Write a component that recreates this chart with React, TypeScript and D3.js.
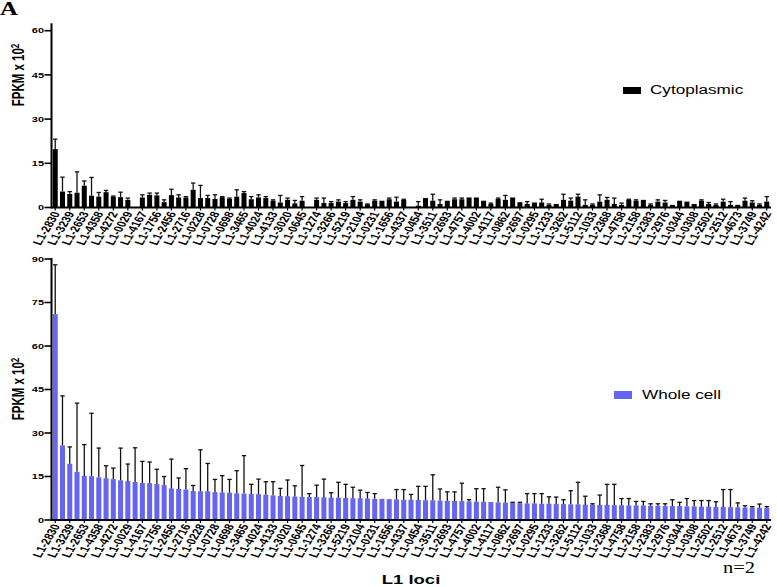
import React from "react";
import * as d3 from "d3";

const labels = ["L1-2830","L1-3239","L1-2653","L1-4358","L1-4272","L1-0029","L1-4167","L1-1756","L1-2456","L1-2716","L1-0228","L1-0728","L1-0698","L1-3465","L1-4024","L1-4133","L1-3020","L1-0645","L1-1274","L1-3266","L1-5219","L1-2104","L1-0231","L1-1656","L1-4337","L1-0454","L1-3511","L1-2693","L1-4757","L1-4002","L1-4117","L1-0862","L1-2697","L1-0295","L1-1233","L1-3262","L1-5112","L1-1033","L1-2368","L1-4758","L1-2158","L1-2383","L1-2976","L1-0344","L1-0308","L1-2502","L1-2512","L1-4673","L1-3749","L1-4242"];

const cytoValues = [
  19.8, 5.4, 4.6, 5.0, 7.4, 4.0, 3.7, 5.2, 3.7, 3.5,
  2.6, 0, 3.4, 4.3, 4.1, 1.8, 4.2, 3.4, 3.4, 6.0,
  3.2, 3.2, 2.9, 3.5, 2.9, 3.7, 4.9, 2.8, 3.4, 3.2,
  2.3, 1.7, 2.6, 1.4, 2.3, 0, 2.6, 1.5, 1.5, 2.0,
  1.5, 2.6, 2.0, 1.1, 2.3, 2.3, 2.8, 2.0, 2.6, 0,
  0.6, 3.2, 2.3, 1.2, 2.3, 2.8, 2.8, 3.4, 3.4, 2.3,
  1.2, 2.9, 2.6, 3.4, 1.8, 1.2, 1.7, 1.7, 0.9, 1.2,
  2.6, 2.3, 3.7, 0.9, 0.9, 2.0, 2.6, 1.2, 0.9, 2.6,
  2.3, 2.6, 0.9, 2.0, 1.7, 0.9, 2.3, 2.0, 1.2, 2.3,
  1.2, 0.9, 2.0, 0.9, 0.9, 2.3, 1.7, 0.9, 2.0
];
const cytoErrTop = [
  23.2, 10.3, 5.4, 12.1, 9.0, 10.2, 5.1, 5.8, 3.9, 5.2,
  3.2, 0, 4.3, 4.9, 4.9, 2.6, 6.2, 4.3, 3.7, 8.3,
  7.5, 4.1, 4.3, 3.7, 3.2, 6.0, 5.4, 3.7, 4.3, 3.7,
  2.6, 4.1, 3.2, 2.4, 3.7, 0, 3.2, 3.2, 2.0, 2.6,
  2.0, 3.7, 2.6, 1.2, 2.6, 2.3, 3.2, 3.5, 2.8, 0,
  2.0, 3.2, 4.5, 2.6, 2.3, 3.2, 3.2, 3.4, 3.4, 2.3,
  1.5, 3.2, 4.1, 3.4, 1.8, 2.0, 1.7, 2.8, 1.2, 1.2,
  4.5, 3.2, 4.5, 2.6, 1.2, 4.3, 3.4, 3.2, 1.5, 2.8,
  2.6, 2.6, 1.2, 2.6, 2.4, 0.9, 2.3, 2.0, 1.2, 2.6,
  1.7, 1.2, 2.8, 2.0, 0.9, 3.2, 2.3, 1.2, 3.7
];

const wholeValues = [
  71.0, 25.7, 19.4, 16.6, 15.2, 15.1, 14.7, 14.4, 14.1, 13.7,
  13.4, 13.1, 12.8, 12.7, 12.4, 12.0, 10.9, 10.7, 10.5, 10.0,
  9.9, 9.9, 9.6, 9.5, 9.4, 9.2, 9.1, 9.0, 8.9, 8.7,
  8.5, 8.3, 8.2, 8.1, 8.0, 7.9, 7.9, 7.8, 7.7, 7.7,
  7.6, 7.5, 7.5, 7.4, 7.3, 7.3, 7.2, 7.1, 7.0, 7.0,
  6.9, 6.8, 6.8, 6.7, 6.6, 6.6, 6.5, 6.4, 6.3, 6.3,
  6.2, 6.1, 6.0, 5.9, 5.8, 5.7, 5.7, 5.6, 5.6, 5.5,
  5.5, 5.4, 5.4, 5.3, 5.3, 5.2, 5.2, 5.1, 5.1, 5.0,
  5.0, 5.0, 4.9, 4.9, 4.8, 4.8, 4.8, 4.7, 4.7, 4.6,
  4.6, 4.5, 4.5, 4.4, 4.4, 4.3, 4.3, 4.2, 4.1
];
const wholeErrTop = [
  88, 42.8, 25.2, 40.3, 26.0, 36.8, 24.8, 18.7, 17.9, 24.8,
  19.3, 24.9, 20.2, 20.0, 17.5, 15.0, 21.0, 14.5, 17.7, 11.9,
  24.2, 19.5, 14.0, 15.3, 14.0, 17.0, 22.2, 12.3, 14.1, 13.2,
  13.2,
  10.9, 13.8, 11.8, 18.8, 9.1, 12.0, 14.1, 9.4, 13.0, 12.3,
  11.3, 10.3, 9.5, 9.1, 6.6, 6.6, 10.5, 10.5, 8.8, 11.6,
  11.6, 15.6, 10.7, 9.7, 9.7, 12.7, 7.0, 10.8, 10.8, 6.1,
  11.3, 10.4, 6.1, 6.1, 9.1,
  9.1, 9.1, 8.0, 7.9, 7.0, 10.1, 13.0, 8.2, 5.6, 8.6,
  12.3, 12.3, 7.4, 7.4, 6.4, 6.4, 5.6, 5.6, 5.6, 7.0,
  6.1, 7.4, 6.7, 6.7, 6.7, 6.3, 10.5, 10.5, 5.9, 4.9,
  4.6, 5.5, 4.6
];

const cytoTicks = [0, 15, 30, 45, 60];
const wholeTicks = [0, 15, 30, 45, 60, 75, 90];

const SX = 1.37;
const VW = 777 / SX;
const vx = (r: number) => r / SX;
const SANS = "'Liberation Sans', Arial, Helvetica, sans-serif";
const SERIF = "'Liberation Serif', 'Times New Roman', serif";

const x = d3
  .scaleBand<number>()
  .domain(d3.range(wholeValues.length))
  .range([vx(52), vx(770)])
  .paddingInner(0.31)
  .paddingOuter(0.1);

type PanelProps = {
  values: number[];
  errTop: number[];
  ticks: number[];
  yMax: number;
  axisTop: number;
  y0: number;
  yTop: number;
  color: string;
  titleY: number;
};

function Panel({ values, errTop, ticks, yMax, axisTop, y0, yTop, color, titleY }: PanelProps) {
  const y = d3.scaleLinear().domain([0, yMax]).range([y0, yTop]);
  const axisX = vx(51.5);
  const bw = x.bandwidth();
  const cap = vx(2.2);
  return (
    <g>
      {values.map((v, i) => {
        const cx = (x(i) as number) + bw / 2;
        return (
          <g key={i}>
            {v > 0 && (
              <rect x={x(i)} y={y(v)} width={bw} height={y0 - y(v)} fill={color} />
            )}
            {errTop[i] > v && (
              <g stroke="#111" strokeWidth={1.3}>
                <line x1={cx} x2={cx} y1={y(v)} y2={y(errTop[i])} vectorEffect="non-scaling-stroke" />
                <line x1={cx - cap} x2={cx + cap} y1={y(errTop[i])} y2={y(errTop[i])} vectorEffect="non-scaling-stroke" />
              </g>
            )}
          </g>
        );
      })}
      <line x1={axisX} x2={axisX} y1={axisTop} y2={y0 + 1} stroke="#000" strokeWidth={2} vectorEffect="non-scaling-stroke" />
      {ticks.map((t) => (
        <g key={t}>
          <line x1={vx(44.5)} x2={axisX} y1={y(t)} y2={y(t)} stroke="#000" strokeWidth={1.6} vectorEffect="non-scaling-stroke" />
          <text x={vx(44)} y={y(t)} dy="0.35em" textAnchor="end" fontFamily={SANS} fontWeight="bold" fontSize={8} fill="#000">
            {t}
          </text>
        </g>
      ))}
      <line x1={axisX} x2={vx(771)} y1={y0} y2={y0} stroke="#000" strokeWidth={2} vectorEffect="non-scaling-stroke" />
      {labels.map((lab, k) => {
        const i = k * 2;
        const cx = (x(i) as number) + bw / 2;
        return (
          <g key={lab}>
            <line x1={cx} x2={cx} y1={y0} y2={y0 + 3} stroke="#000" strokeWidth={1.2} vectorEffect="non-scaling-stroke" />
            <text
              transform={`translate(${cx + 0.6},${y0 + 4.5}) rotate(-66)`}
              dy="0.35em"
              textAnchor="end"
              fontFamily={SANS}
              fontWeight="bold"
              fontSize={9.5}
              fill="#000"
            >
              {lab}
            </text>
          </g>
        );
      })}
      <text
        transform={`translate(${vx(24)},${titleY}) rotate(-90)`}
        textAnchor="middle"
        fontFamily={SANS}
        fontWeight="bold"
        fontSize={11.5}
        fill="#000"
      >
        FPKM x 10<tspan dy={-4} fontSize={8}>2</tspan>
      </text>
    </g>
  );
}

export default function App() {
  return (
    <svg
      width={777}
      height={587}
      viewBox={`0 0 ${VW} 587`}
      preserveAspectRatio="none"
      style={{ position: "absolute", left: 0, top: 0, background: "#fff" }}
    >
      <rect x={0} y={0} width={VW} height={587} fill="#fff" />
      <text x={0} y={15} fontFamily={SERIF} fontWeight="bold" fontSize={18} fill="#000">A</text>
      <Panel
        values={cytoValues}
        errTop={cytoErrTop}
        ticks={cytoTicks}
        yMax={60}
        axisTop={23.3}
        y0={207.5}
        yTop={30.7}
        color="#000"
        titleY={75}
      />
      <Panel
        values={wholeValues}
        errTop={wholeErrTop}
        ticks={wholeTicks}
        yMax={90}
        axisTop={258}
        y0={520}
        yTop={259}
        color="#6565f2"
        titleY={389}
      />
      <rect x={vx(623)} y={87} width={vx(18)} height={7} fill="#000" />
      <text x={vx(650)} y={94.3} fontFamily={SANS} fontSize={12.5} fill="#000">Cytoplasmic</text>
      <rect x={vx(614)} y={391} width={vx(18)} height={8} fill="#6565f2" />
      <text x={vx(642)} y={399.2} fontFamily={SANS} fontSize={12.5} fill="#000">Whole cell</text>
      <text x={vx(411)} y={584} textAnchor="middle" fontFamily={SANS} fontWeight="bold" fontSize={13.5} fill="#000">L1 loci</text>
      <text x={vx(723)} y={573} fontFamily={SERIF} fontSize={17} textLength={vx(32)} lengthAdjust="spacingAndGlyphs" fill="#000">n=2</text>
    </svg>
  );
}
